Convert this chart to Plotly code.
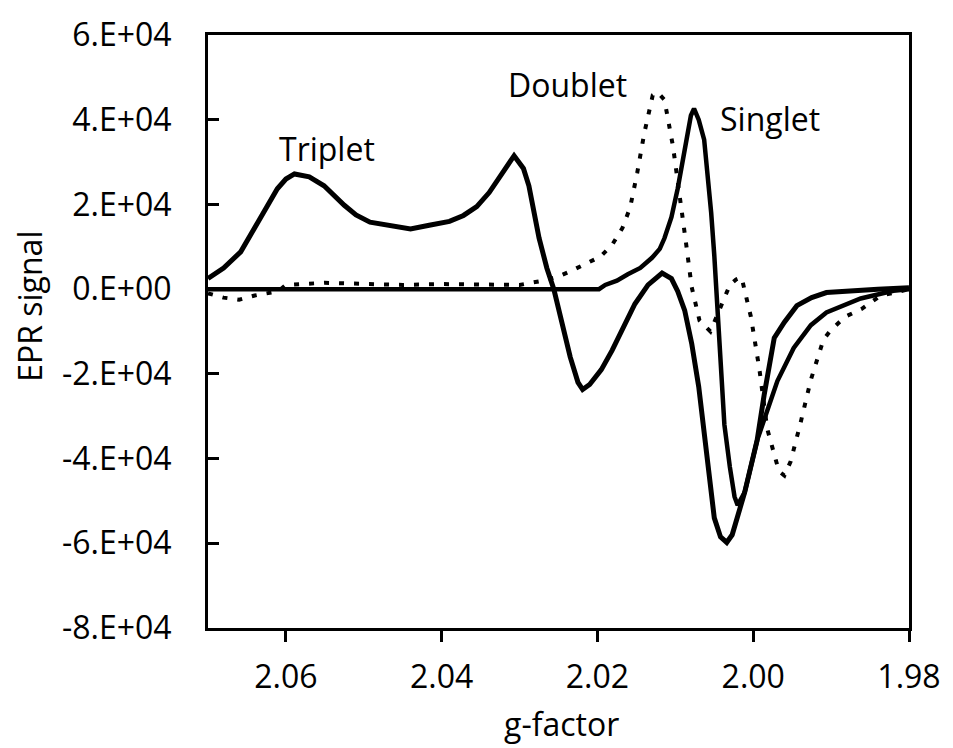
import plotly.graph_objects as go

# ---------------- data ----------------
triplet_g = [2.0700, 2.0680, 2.0658, 2.0645, 2.0632, 2.0620, 2.0611, 2.0600, 2.0589, 2.0570,
             2.0551, 2.0525, 2.0510, 2.0492, 2.0470, 2.0440, 2.0416, 2.0390, 2.0372, 2.0355,
             2.0339, 2.0320, 2.0307, 2.0295, 2.0288, 2.0275, 2.0265, 2.0256, 2.0245, 2.0235,
             2.0225, 2.0219, 2.0210, 2.0195, 2.0181, 2.0165, 2.0152, 2.0135, 2.0117, 2.0105,
             2.0097, 2.0088, 2.0079, 2.0070, 2.0063, 2.0056, 2.0050, 2.0042, 2.0034, 2.0027,
             2.0021, 2.0011, 1.9995, 1.9986, 1.9973, 1.9960, 1.9944, 1.9925, 1.9906, 1.9870,
             1.9840, 1.9800]
triplet_val = [0.25, 0.50, 0.88, 1.30, 1.67, 2.10, 2.37, 2.60, 2.72, 2.65,
               2.44, 1.98, 1.75, 1.58, 1.50, 1.42, 1.51, 1.60, 1.74, 1.95,
               2.28, 2.80, 3.15, 2.85, 2.44, 1.21, 0.50, 0.00, -0.80, -1.60,
               -2.20, -2.37, -2.25, -1.90, -1.44, -0.85, -0.35, 0.10, 0.38, 0.25,
               -0.05, -0.50, -1.28, -2.30, -3.44, -4.50, -5.40, -5.85, -5.98, -5.80,
               -5.40, -4.80, -3.57, -2.50, -1.15, -0.78, -0.39, -0.20, -0.08, -0.03,
               0.00, 0.03]

singlet_g = [2.0700, 2.0198, 2.0190, 2.0175, 2.0161, 2.0145, 2.0130, 2.0120, 2.0114, 2.0105,
             2.0097, 2.0090, 2.0084, 2.0080, 2.0076, 2.0070, 2.0063, 2.0058, 2.0054, 2.0050,
             2.0046, 2.0042, 2.0037, 2.0030, 2.0024, 2.0020, 2.0011, 1.9995, 1.9986, 1.9969,
             1.9948, 1.9926, 1.9906, 1.9862, 1.9820, 1.9800]
singlet_val = [0.00, 0.00, 0.10, 0.20, 0.35, 0.50, 0.74, 0.95, 1.20, 1.70,
               2.37, 3.10, 3.77, 4.10, 4.26, 4.00, 3.53, 2.70, 1.81, 0.80,
               -0.40, -1.90, -3.20, -4.20, -4.90, -5.10, -4.80, -3.57, -3.10, -2.17,
               -1.39, -0.85, -0.55, -0.22, -0.04, 0.00]

doublet_g = [2.0700, 2.0680, 2.0660, 2.0640, 2.0610, 2.0600, 2.0550, 2.0500, 2.0450, 2.0400,
             2.0350, 2.0300, 2.0270, 2.0250, 2.0235, 2.0212, 2.0196, 2.0181, 2.0168, 2.0158,
             2.0149, 2.0140, 2.0129, 2.0123, 2.0114, 2.0103, 2.0094, 2.0086, 2.0079, 2.0069,
             2.0055, 2.0043, 2.0030, 2.0022, 2.0015, 2.0003, 1.9992, 1.9982, 1.9967, 1.9960,
             1.9952, 1.9939, 1.9926, 1.9910, 1.9901, 1.9882, 1.9861, 1.9837, 1.9800]
doublet_val = [-0.10, -0.20, -0.25, -0.15, -0.05, 0.10, 0.15, 0.12, 0.10, 0.12,
               0.10, 0.10, 0.20, 0.30, 0.42, 0.63, 0.77, 1.05, 1.44, 1.93,
               2.74, 3.67, 4.58, 4.65, 4.47, 3.37, 2.20, 1.05, 0.05, -0.74,
               -1.00, -0.47, 0.10, 0.23, 0.28, -0.65, -1.90, -3.30, -4.30, -4.40,
               -4.07, -3.14, -2.14, -1.20, -0.98, -0.65, -0.47, -0.16, 0.00]

scale = 1e4  # values above are in units of 1E+04

x_tickvals = [2.06, 2.04, 2.02, 2.00, 1.98]
x_ticktext = ["2.06", "2.04", "2.02", "2.00", "1.98"]
y_tickvals = [-8e4, -6e4, -4e4, -2e4, 0, 2e4, 4e4, 6e4]
y_ticktext = ["-8.E+04", "-6.E+04", "-4.E+04", "-2.E+04", "0.E+00", "2.E+04", "4.E+04", "6.E+04"]

labels = ["Triplet", "Doublet", "Singlet"]
label_g = [2.0547, 2.0239, 1.9978]
label_val = [3.33, 4.82, 4.03]

x_range = [2.07, 1.98]
y_range = [-8e4, 6e4]

# ---------------- figure ----------------
FONT = "Open Sans"
FS = 32
fig = go.Figure()

fig.add_trace(go.Scatter(
    x=doublet_g, y=[v * scale for v in doublet_val], mode="lines",
    line=dict(color="black", width=4, dash="5px,10px"), name="Doublet"))
fig.add_trace(go.Scatter(
    x=singlet_g, y=[v * scale for v in singlet_val], mode="lines",
    line=dict(color="black", width=4.5), name="Singlet"))
fig.add_trace(go.Scatter(
    x=triplet_g, y=[v * scale for v in triplet_val], mode="lines",
    line=dict(color="black", width=5), name="Triplet"))
# invisible trace that activates the overlay axis carrying the inside tick marks
fig.add_trace(go.Scatter(x=[x_range[0]], y=[y_range[0]], yaxis="y2", mode="markers",
                         marker=dict(opacity=0), hoverinfo="skip", showlegend=False))

for t, gx, v in zip(labels, label_g, label_val):
    fig.add_annotation(x=gx, y=v * scale, text=t, showarrow=False,
                       xanchor="center", yanchor="middle", borderpad=0,
                       font=dict(family=FONT, size=FS, color="black"))

fig.add_annotation(xref="paper", yref="paper", x=0.504, y=-0.1615, text="g-factor",
                   showarrow=False, xanchor="center", yanchor="middle", borderpad=0,
                   font=dict(family=FONT, size=FS, color="black"))
fig.add_annotation(xref="paper", yref="paper", x=-0.2556, y=0.543, text="EPR signal",
                   showarrow=False, xanchor="center", yanchor="middle", textangle=-90,
                   borderpad=0, font=dict(family=FONT, size=FS, color="black"))

fig.update_layout(
    width=953, height=748,
    margin=dict(l=208, r=37, t=25, b=120),
    paper_bgcolor="white", plot_bgcolor="white",
    showlegend=False,
    font=dict(family=FONT, size=FS, color="black"),
    xaxis=dict(
        range=x_range, tickvals=x_tickvals, ticktext=x_ticktext,
        showgrid=False, zeroline=False,
        showline=True, linecolor="black", linewidth=3, mirror=True,
        ticks="outside", ticklen=11, tickwidth=3, tickcolor="black",
        ticklabelstandoff=8,
        tickfont=dict(family=FONT, size=FS, color="black"),
    ),
    yaxis=dict(
        range=y_range, tickvals=y_tickvals, ticktext=y_ticktext,
        showgrid=False, zeroline=False,
        showline=True, linecolor="black", linewidth=3, mirror=True,
        ticks="outside", ticklen=0, tickcolor="black",
        ticklabelstandoff=27,
        tickfont=dict(family=FONT, size=FS, color="black"),
    ),
    yaxis2=dict(overlaying="y", side="left", range=y_range, tickvals=y_tickvals,
                showticklabels=False, showgrid=False, zeroline=False, showline=False,
                ticks="inside", ticklen=11, tickwidth=3, tickcolor="black"),
)

fig.write_html("out.html")
